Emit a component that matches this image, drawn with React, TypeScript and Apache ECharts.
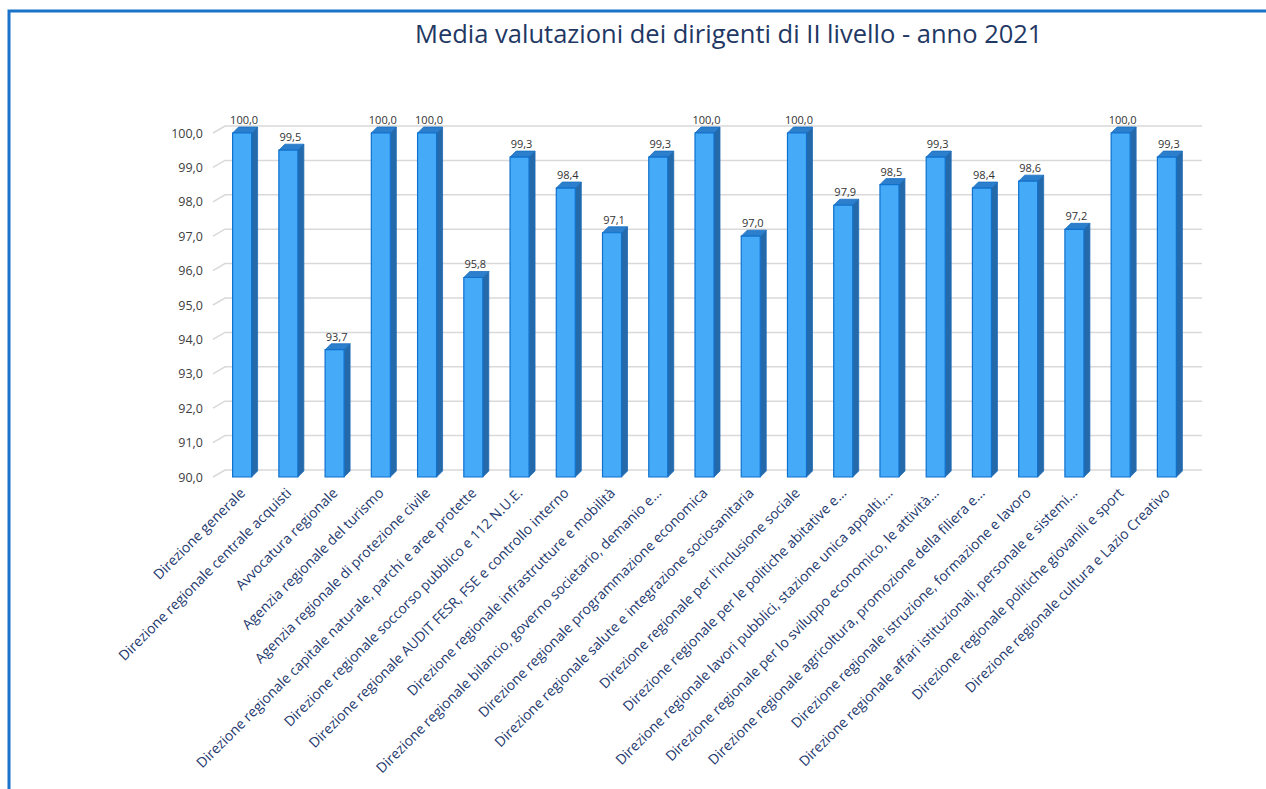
import React, { useEffect, useRef } from "react";
import * as echarts from "echarts";

const title = "Media valutazioni dei dirigenti di II livello - anno 2021";

const categories = [
  "Direzione generale",
  "Direzione regionale centrale acquisti",
  "Avvocatura regionale",
  "Agenzia regionale del turismo",
  "Agenzia regionale di protezione civile",
  "Direzione regionale capitale naturale, parchi e aree protette",
  "Direzione regionale soccorso pubblico e 112 N.U.E.",
  "Direzione regionale AUDIT FESR, FSE e controllo interno",
  "Direzione regionale infrastrutture e mobilità",
  "Direzione regionale bilancio, governo societario, demanio e…",
  "Direzione regionale programmazione economica",
  "Direzione regionale salute e integrazione sociosanitaria",
  "Direzione regionale per l'inclusione sociale",
  "Direzione regionale per le politiche abitative e…",
  "Direzione regionale lavori pubblici, stazione unica appalti,…",
  "Direzione regionale per lo sviluppo economico, le attività…",
  "Direzione regionale agricoltura, promozione della filiera e…",
  "Direzione regionale istruzione, formazione e lavoro",
  "Direzione regionale affari istituzionali, personale e sistemi…",
  "Direzione regionale politiche giovanili e sport",
  "Direzione regionale cultura e Lazio Creativo",
];

const values = [
  100.0, 99.5, 93.7, 100.0, 100.0, 95.8, 99.3, 98.4, 97.1, 99.3, 100.0, 97.0,
  100.0, 97.9, 98.5, 99.3, 98.4, 98.6, 97.2, 100.0, 99.3,
];

const yTicks = [90, 91, 92, 93, 94, 95, 96, 97, 98, 99, 100];

const fmt = (v: number) => v.toFixed(1).replace(".", ",");

const FONT = "'Open Sans', 'Noto Sans', sans-serif";

export default function App() {
  const ref = useRef<HTMLDivElement>(null);

  useEffect(() => {
    if (!ref.current) return;
    const chart = echarts.init(ref.current, null, { renderer: "svg" });
    const yMin = yTicks[0];
    const yMax = yTicks[yTicks.length - 1];
    const DX = 6;
    const DY = 6;
    const BW = 19;

    chart.setOption({
      animation: false,
      backgroundColor: "#ffffff",
      title: {
        text: title,
        left: 410,
        top: 15,
        textStyle: {
          fontFamily: FONT,
          fontSize: 25.5,
          fontWeight: "normal",
          color: "#1F3864",
        },
      },
      graphic: [
        {
          type: "rect",
          shape: { x: 9, y: 11, width: 1400, height: 900 },
          style: { fill: "none", stroke: "#1A73C9", lineWidth: 3 },
          silent: true,
        },
      ],
      grid: {
        left: 219,
        right: 76,
        top: 133,
        bottom: 312,
        containLabel: false,
        outerBoundsMode: "none",
      },
      xAxis: {
        type: "category",
        data: categories,
        axisLine: { show: false },
        axisTick: { show: false },
        axisLabel: {
          interval: 0,
          rotate: 45,
          margin: 13,
          fontFamily: FONT,
          fontSize: 14,
          color: "#1F3A6E",
        },
      },
      yAxis: {
        type: "value",
        min: yMin,
        max: yMax,
        interval: 1,
        axisLine: { show: false },
        axisTick: { show: false },
        splitLine: { show: false },
        axisLabel: {
          margin: 16,
          fontFamily: FONT,
          fontSize: 12.5,
          color: "#404040",
          formatter: (v: number) => fmt(v),
        },
      },
      series: [
        {
          type: "custom",
          name: "grid",
          clip: false,
          silent: true,
          z: 1,
          data: yTicks.map((v) => [0, v]),
          encode: { x: 0, y: 1 },
          renderItem: (params: any, api: any) => {
            const cs = params.coordSys;
            const y = api.coord([0, api.value(1)])[1];
            return {
              type: "polyline",
              shape: {
                points: [
                  [cs.x - 6, y],
                  [cs.x + 6, y - 7],
                  [cs.x + cs.width + 12, y - 7],
                ],
              },
              style: { stroke: "#D9D9D9", lineWidth: 1.5, fill: "none" },
            };
          },
        },
        {
          type: "custom",
          name: "Media",
          clip: false,
          z: 2,
          data: values.map((v, i) => [i, v]),
          encode: { x: 0, y: 1 },
          renderItem: (params: any, api: any) => {
            const idx = api.value(0);
            const val = api.value(1);
            const top = api.coord([idx, val]);
            const base = api.coord([idx, yMin]);
            const cx = top[0];
            const l = cx - BW / 2;
            const r = cx + BW / 2;
            const t = top[1];
            const b = base[1];
            return {
              type: "group",
              children: [
                {
                  type: "polygon",
                  shape: {
                    points: [
                      [r, t],
                      [r + DX, t - DY],
                      [r + DX, b - DY],
                      [r, b],
                    ],
                  },
                  style: { fill: "#246AAB", stroke: "#1F6BB5", lineWidth: 0.8 },
                },
                {
                  type: "polygon",
                  shape: {
                    points: [
                      [l, t],
                      [l + DX, t - DY],
                      [r + DX, t - DY],
                      [r, t],
                    ],
                  },
                  style: { fill: "#2C7FCC", stroke: "#1A6FC0", lineWidth: 0.8 },
                },
                {
                  type: "rect",
                  shape: { x: l, y: t, width: BW, height: b - t },
                  style: { fill: "#45ABF8", stroke: "#1071CD", lineWidth: 1.2 },
                },
                {
                  type: "text",
                  style: {
                    text: fmt(val),
                    x: cx + 2,
                    y: t - 8,
                    align: "center",
                    verticalAlign: "bottom",
                    fontFamily: FONT,
                    fontSize: 11,
                    fill: "#333333",
                  },
                },
              ],
            };
          },
        },
      ],
    });

    return () => chart.dispose();
  }, []);

  return (
    <div
      ref={ref}
      style={{ position: "fixed", left: 0, top: 0, width: 1266, height: 789 }}
    />
  );
}
